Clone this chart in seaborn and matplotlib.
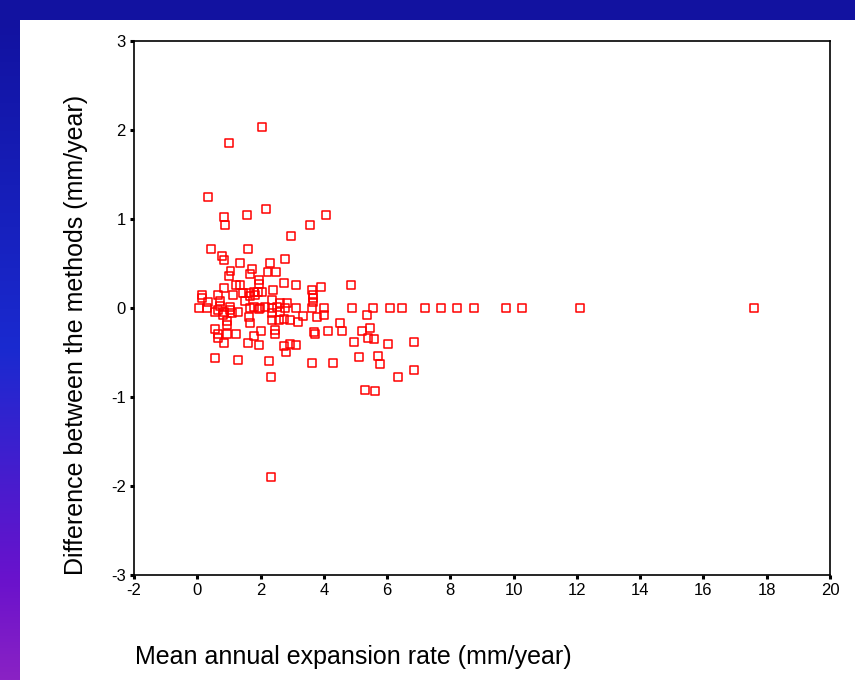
import numpy as np
import pandas as pd
import matplotlib
matplotlib.use("Agg")
import matplotlib.pyplot as plt
import seaborn as sns
from matplotlib.patches import Rectangle
from matplotlib.colors import LinearSegmentedColormap

# ---- data ----
mean_rate = [
    2.06, 1.00, 0.33, 2.16, 1.56, 4.07, 0.84, 0.89, 3.57, 2.95,
    0.44, 1.61, 0.78, 0.84, 1.34, 2.29, 2.78, 1.05, 1.73, 1.00,
    1.68, 2.22, 2.50, 1.95, 1.95, 2.73, 3.12, 3.90, 4.85, 3.63,
    0.84, 1.23, 1.34, 2.39, 0.16, 0.66, 1.12, 1.46, 1.62, 1.78,
    1.93, 2.05, 3.66, 3.66, 3.66, 0.16, 0.33, 0.73, 0.73, 1.04,
    1.52, 1.68, 1.83, 2.37, 2.62, 2.84,
    0.07, 0.30, 1.66, 1.99, 2.36, 2.78, 3.12, 3.63, 4.01, 4.90,
    5.57, 6.08, 6.46, 7.20, 7.69, 8.20, 8.75, 9.76, 10.25, 12.10,
    17.61,
    1.78, 2.15, 2.52, 0.57, 0.83, 1.02, 1.30, 1.94, 2.62, 0.67,
    1.10,
    0.81, 1.62, 2.36, 2.36, 2.57, 2.73, 2.92, 3.18, 3.34, 3.78,
    4.01, 5.36, 0.94, 0.94, 1.68, 0.55, 0.66, 0.66, 0.95, 1.23,
    0.83, 1.60, 1.78, 1.96, 2.01, 2.47, 2.47, 2.73, 2.79, 2.94,
    3.13, 3.68, 3.73, 4.13, 4.52, 4.57, 4.96, 5.21, 5.45, 5.39,
    5.59, 6.03, 6.86, 0.55, 1.28, 2.28, 3.63, 4.29, 5.12, 5.71,
    5.77, 6.36, 6.86, 2.34, 5.29, 5.63, 2.34,
]
difference = [
    2.03, 1.85, 1.25, 1.11, 1.04, 1.04, 1.02, 0.93, 0.93, 0.81,
    0.66, 0.66, 0.58, 0.54, 0.51, 0.51, 0.55, 0.42, 0.44, 0.36,
    0.38, 0.40, 0.40, 0.32, 0.27, 0.28, 0.26, 0.24, 0.26, 0.20,
    0.22, 0.26, 0.26, 0.20, 0.15, 0.15, 0.15, 0.17, 0.17, 0.18,
    0.18, 0.18, 0.15, 0.11, 0.07, 0.11, 0.07, 0.08, 0.02, 0.01,
    0.08, 0.13, 0.15, 0.09, 0.06, 0.06,
    0.00, 0.00, 0.00, 0.00, 0.00, 0.00, 0.00, 0.00, 0.00, 0.00,
    0.00, 0.00, 0.00, 0.00, 0.00, 0.00, 0.00, 0.00, 0.00, 0.00,
    0.00,
    0.01, 0.01, 0.01, -0.04, -0.04, -0.02, -0.04, -0.01, -0.04, -0.02,
    -0.06,
    -0.08, -0.10, -0.06, -0.14, -0.14, -0.12, -0.14, -0.16, -0.09, -0.10,
    -0.08, -0.08, -0.15, -0.19, -0.17, -0.24, -0.29, -0.34, -0.29, -0.29,
    -0.39, -0.39, -0.31, -0.42, -0.26, -0.25, -0.29, -0.43, -0.50, -0.40,
    -0.42, -0.27, -0.29, -0.26, -0.17, -0.26, -0.38, -0.26, -0.22, -0.34,
    -0.35, -0.40, -0.38, -0.56, -0.58, -0.60, -0.62, -0.62, -0.55, -0.54,
    -0.63, -0.78, -0.70, -0.78, -0.92, -0.93, -1.90,
]
x_ticks = [-2, 0, 2, 4, 6, 8, 10, 12, 14, 16, 18, 20]
y_ticks = [-3, -2, -1, 0, 1, 2, 3]
x_label = "Mean annual expansion rate (mm/year)"
y_label = "Difference between the methods (mm/year)"

df = pd.DataFrame({"mean": mean_rate, "diff": difference})

sns.set_style("white")
plt.rcParams["font.family"] = ["Liberation Sans", "DejaVu Sans"]
plt.rcParams["text.color"] = "black"
plt.rcParams["xtick.color"] = "black"
plt.rcParams["ytick.color"] = "black"

W, H = 855, 680
fig = plt.figure(figsize=(W / 100, H / 100), dpi=100)
fig.patch.set_facecolor("white")

# decorative frame: top strip and left gradient strip
fig.patches.append(Rectangle((0, 1 - 20 / H), 1, 20 / H, transform=fig.transFigure,
                             facecolor="#1212a0", edgecolor="none", zorder=0))
gax = fig.add_axes([0, 0, 20 / W, 1 - 20 / H])
cmap = LinearSegmentedColormap.from_list(
    "frame", [(0.0, "#1212a0"), (0.5, "#1a2ad0"), (0.85, "#6a12cc"), (1.0, "#8a22c4")])
grad = np.linspace(0, 1, 256).reshape(-1, 1)
gax.imshow(grad, aspect="auto", cmap=cmap, extent=[0, 1, 1, 0])
gax.axis("off")

ax = fig.add_axes([134 / W, 1 - 575 / H, 696 / W, 534 / H])
sns.scatterplot(data=df, x="mean", y="diff", marker="s", s=33,
                facecolors="none", edgecolors="#ff0000", linewidths=1.1,
                ax=ax, legend=False)

ax.set_xlim(-2, 20)
ax.set_ylim(-3, 3)
ax.set_xticks(x_ticks)
ax.set_yticks(y_ticks)
ax.set_xticklabels([str(t) for t in x_ticks])
ax.set_yticklabels([str(t) for t in y_ticks])
ax.tick_params(axis="both", which="major", bottom=True, left=True, top=False, right=False,
               direction="out", length=3, width=2.2, color="black",
               labelcolor="black", labelsize=12, pad=3)
ax.set_xlabel("")
ax.set_ylabel("")
for sp in ax.spines.values():
    sp.set_visible(True)
    sp.set_color("black")
    sp.set_linewidth(1.2)

fig.text(135 / W, 1 - 657 / H, x_label, ha="left", va="center", fontsize=18,
         color="black")
fig.text(76 / W, 1 - 575 / H, y_label, ha="center", va="bottom", rotation=90,
         fontsize=18, color="black")

fig.savefig("out.png", dpi=100)
